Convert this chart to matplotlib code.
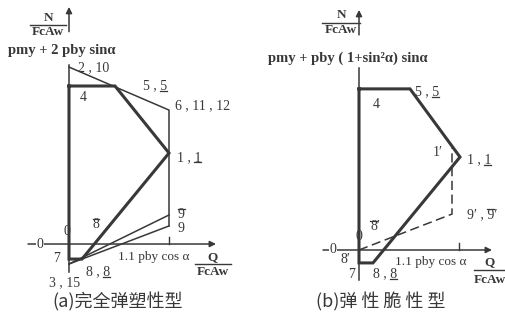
import matplotlib
matplotlib.use("Agg")
import matplotlib.pyplot as plt
from matplotlib.lines import Line2D
from matplotlib.transforms import IdentityTransform

plt.rcParams["font.family"] = ["Liberation Serif", "DejaVu Serif"]

INK = "#383838"
CJK = ["Noto Sans CJK SC", "DejaVu Sans"]

# panel (a): fully elastic-plastic
a_thick_x = [0, 0.46, 1.0, 0.13, 0, 0]
a_thick_y = [0.893, 0.893, 0.514, -0.085, -0.085, 0.893]
a_thin_x = [0, 1.0, 1.0]
a_thin_y = [1.0, 0.757, 0.102]
a_fan_start = (0, -0.113)
a_fan_end_x = [1.0, 1.0]
a_fan_end_y = [0.164, 0.102]
# (prefix, marked char, suffix, mark, x, y, ha)
a_labels = [
    ("2 , 10", "", "", None, 0.09, 0.994, "left"),
    ("4", "", "", None, 0.11, 0.83, "left"),
    ("5 , ", "5", "", "under", 0.74, 0.895, "left"),
    ("6 , 11 , 12", "", "", None, 1.06, 0.78, "left"),
    ("1 , ", "1", "", "under", 1.08, 0.49, "left"),
    ("", "9", "", "over", 1.09, 0.165, "left"),
    ("9", "", "", None, 1.09, 0.085, "left"),
    ("0", "", "", None, -0.02, 0.07, "center"),
    ("7", "", "", None, -0.12, -0.08, "center"),
    ("", "8", "", "over", 0.27, 0.11, "center"),
    ("8 , ", "8", "", "under", 0.29, -0.158, "center"),
    ("3 , 15", "", "", None, -0.04, -0.22, "center"),
]

# panel (b): elastic-brittle
b_thick_x = [0, 0.51, 1.01, 0.14, 0, 0]
b_thick_y = [0.91, 0.91, 0.525, -0.073, -0.073, 0.91]
b_dash_x = [0, 0.93, 0.93]
b_dash_y = [0, 0.203, 0.576]
b_labels = [
    ("4", "", "", None, 0.14, 0.82, "left"),
    ("5 , ", "5", "", "under", 0.56, 0.895, "left"),
    ("1\u2032", "", "", None, 0.79, 0.55, "center"),
    ("1 , ", "1", "", "under", 1.08, 0.51, "left"),
    ("9\u2032 , ", "9", "\u2032", "over", 1.08, 0.2, "left"),
    ("", "8", "\u2032", "over", 0.16, 0.13, "center"),
    ("0", "", "", None, 0.0, 0.075, "center"),
    ("8\u2032", "", "", None, -0.14, -0.056, "center"),
    ("7", "", "", None, -0.07, -0.14, "center"),
    ("8 , ", "8", "", "under", 0.26, -0.136, "center"),
]

marked = []


def put_labels(ax, labels):
    for pre, ch, post, mark, x, y, ha in labels:
        t = ax.text(x, y, pre + ch + post, ha=ha, va="center", fontsize=10, color=INK)
        if mark:
            marked.append((ax, t, pre, ch, mark))


def draw_axes(ax, x_left, x_right, y_top, y_gap, y_bottom, zero_x):
    ax.annotate("", xy=(x_right, 0), xytext=(x_left, 0),
                arrowprops=dict(arrowstyle="-|>", color=INK, lw=1.1,
                                mutation_scale=9, shrinkA=0, shrinkB=0))
    ax.annotate("", xy=(0, y_top), xytext=(0, y_gap[0]),
                arrowprops=dict(arrowstyle="-|>", color=INK, lw=1.1,
                                mutation_scale=9, shrinkA=0, shrinkB=0))
    ax.plot([0, 0], [y_gap[1], y_bottom], color=INK, lw=1.1)
    ax.plot([1.0, 1.0], [0, 0.04], color=INK, lw=1.0)
    ax.text(zero_x, 0, "0", ha="center", va="center", fontsize=10,
            color=INK, bbox=dict(facecolor="white", edgecolor="none", pad=0.3))


def fraction(ax, x, y_top, y_bot, y_line, half, top, bottom):
    ax.text(x, y_top, top, ha="center", va="center", fontsize=9.5,
            color=INK, fontweight="bold")
    ax.text(x, y_bot, bottom, ha="center", va="center", fontsize=9.5,
            color=INK, fontweight="bold")
    ax.plot([x - half, x + half], [y_line, y_line], color=INK, lw=1.0)


fig = plt.figure(figsize=(5.06, 3.24), dpi=100)
axL = fig.add_axes([0, 0, 0.5, 1])
axR = fig.add_axes([0.5, 0, 0.5, 1])

# ---- panel (a)
axL.set_xlim(-0.69, 1.84)
axL.set_ylim(-0.452, 1.379)
axL.axis("off")
draw_axes(axL, -0.41, 1.47, 1.34, (1.2, 1.01), -0.158, -0.29)
axL.plot(a_thick_x, a_thick_y, color=INK, lw=2.2, solid_joinstyle="miter")
axL.plot(a_thin_x, a_thin_y, color=INK, lw=1.1)
for ex, ey in zip(a_fan_end_x, a_fan_end_y):
    axL.plot([a_fan_start[0], ex], [a_fan_start[1], ey], color=INK, lw=1.1)
put_labels(axL, a_labels)
fraction(axL, -0.21, 1.277, 1.198, 1.237, 0.18, "N", "FcAw")
axL.text(-0.07, 1.096, "pmy + 2 pby sin\u03b1", ha="center", va="center",
         fontsize=10.5, color=INK, fontweight="bold")
axL.text(0.85, -0.075, "1.1 pby cos \u03b1", ha="center", va="center",
         fontsize=9.5, color=INK)
fraction(axL, 1.44, -0.075, -0.16, -0.113, 0.18, "Q", "FcAw")
axL.text(0.49, -0.325, "(a)完全弹塑性型", ha="center", va="center", fontsize=13,
         color=INK, family=CJK)

# ---- panel (b)
axR.set_xlim(-1.06, 1.47)
axR.set_ylim(-0.418, 1.412)
axR.axis("off")
draw_axes(axR, -0.36, 1.33, 1.356, (1.215, 1.03), -0.17, -0.26)
axR.plot(b_thick_x, b_thick_y, color=INK, lw=2.2, solid_joinstyle="miter")
axR.plot(b_dash_x, b_dash_y, color=INK, lw=1.1, dashes=(6, 3))
put_labels(axR, b_labels)
fraction(axR, -0.18, 1.328, 1.243, 1.282, 0.19, "N", "FcAw")
axR.text(-0.11, 1.085, "pmy + pby ( 1+sin\u00b2\u03b1) sin\u03b1", ha="center",
         va="center", fontsize=10.5, color=INK, fontweight="bold")
axR.text(0.72, -0.068, "1.1 pby cos \u03b1", ha="center", va="center",
         fontsize=9.5, color=INK)
fraction(axR, 1.31, -0.068, -0.17, -0.113, 0.16, "Q", "FcAw")
axR.text(0.22, -0.295, "(b)弹 性 脆 性 型", ha="center", va="center", fontsize=13,
         color=INK, family=CJK)

# over/underlines on the marked characters, measured from the rendered text
fig.canvas.draw()
renderer = fig.canvas.get_renderer()


def text_width(ax, s):
    if not s:
        return 0.0
    tmp = ax.text(0, 0, s, fontsize=10)
    w = tmp.get_window_extent(renderer).width
    tmp.remove()
    return w


for ax, t, pre, ch, mark in marked:
    bb = t.get_window_extent(renderer)
    x0 = bb.x0 + text_width(ax, pre)
    x1 = bb.x0 + text_width(ax, pre + ch)
    yy = bb.y0 + 1.5 if mark == "under" else bb.y1 - 0.5
    fig.add_artist(Line2D([x0, x1], [yy, yy], color=INK, lw=0.9,
                          transform=IdentityTransform()))

fig.savefig("out.png", dpi=100, facecolor="white")
